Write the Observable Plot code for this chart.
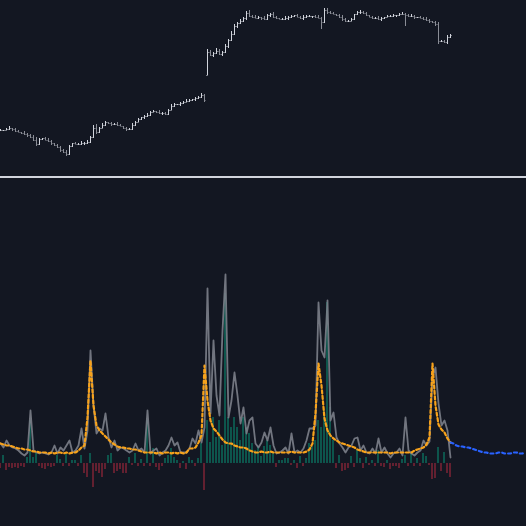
<!DOCTYPE html>
<html><head><meta charset="utf-8">
<script src="https://cdn.jsdelivr.net/npm/d3@7"></script>
<script src="https://cdn.jsdelivr.net/npm/@observablehq/plot@0.6"></script>
<style>
html,body{margin:0;padding:0;background:#131722;}
#chart{width:526px;height:526px;overflow:hidden;background:#131722;}
#sep{height:2px;background:#d1d4dc;}
svg{display:block}
</style></head><body><div id="chart"></div>
<script>
// ---- price panel (closing values) ----
const close = [
 46,46,47,48,47,45,44,43,42,41,
 39,36,32,37,38,36,35,33,31,29,
 26,24,22,30,33,32,32,33,33,34,
 39,48,44,48,51,54,53,52,52,51,
 50,48,47,47,51,54,57,59,60,61,
 64,65,64,63,63,62,66,70,72,72,
 73,74,75,76,77,78,79,81,76,124,
 121,123,125,122,124,130,136,142,150,153,
 155,158,163,160,159,158,159,158,157,161,
 162,159,158,157,157,158,159,160,161,159,
 158,159,160,160,160,159,158,154,166,164,
 163,162,161,159,157,155,155,157,162,164,
 164,163,161,159,158,158,157,158,159,160,
 160,161,161,162,162,161,160,160,159,159,
 158,157,156,155,154,152,135,135,134,139,
 141];
const gapOpen = {69: 101};
const wickUp = [
 1,0,1,2,0,1,1,0,2,1, 1,2,3,1,0,1,2,1,0,1, 1,1,2,1,0,1,1,2,1,2,
 1,3,4,1,2,1,0,1,1,2, 1,0,1,1,2,1,1,0,1,2, 1,1,0,2,1,1,1,2,1,0,
 1,1,2,1,0,1,1,2,1,3, 2,1,3,2,1,2,1,3,2,1, 2,1,2,3,1,2,1,0,2,1,
 1,2,1,0,1,2,1,1,0,1, 1,2,1,1,0,1,2,1,2,2, 1,1,0,1,2,1,1,1,0,1,
 2,1,1,0,1,1,2,1,0,1, 1,1,0,1,2,1,1,2,1,0, 1,1,2,1,0,1,2,1,1,2, 1];
const wickDn = [
 1,1,0,1,2,1,0,1,1,2, 1,1,2,1,1,0,1,2,1,1, 2,1,2,1,1,0,1,1,2,1,
 1,1,2,1,0,1,1,2,1,1, 0,1,2,1,1,1,0,1,2,1, 1,0,1,1,2,1,1,0,1,1,
 2,1,0,1,1,2,1,1,2,0, 1,2,1,1,2,1,2,1,1,2, 1,1,2,1,1,0,1,2,1,1,
 2,1,1,0,1,1,2,1,1,0, 1,2,1,1,2,1,0,7,1,2, 1,0,1,1,2,1,1,0,1,1,
 2,1,1,0,1,1,1,2,1,0, 1,1,2,1,0,11,1,1,2,1, 0,1,1,2,1,2,3,1,1,2, 1];

// ---- volatility panel ----
const realized = [
 20,16,23,18,16,15,13,10,8,11,
 53,13,11,10,11,10,9,11,18,10,
 16,13,18,23,11,13,18,35,15,33,
 113,58,30,35,33,50,26,16,23,13,
 16,15,13,11,13,20,13,15,11,53,
 10,13,15,8,11,13,18,26,18,21,
 11,11,11,15,25,20,33,21,36,175,
 50,123,68,48,133,189,46,63,91,68,
 40,56,30,43,46,20,16,21,31,23,
 36,18,10,11,13,16,10,30,11,13,
 11,15,23,35,35,38,161,113,106,163,
 43,51,26,20,16,11,16,18,25,26,
 13,18,11,10,15,10,25,11,16,10,
 6,10,11,15,8,46,13,10,8,11,
 13,23,18,22,86,96,60,38,43,33,
 6];
const garch = [
 20,19,18,18,17,16,15,15,14,14,
 13,12,12,11,11,11,10,11,10,11,
 11,10,11,10,11,11,13,16,18,46,
 103,58,38,33,30,27,24,21,19,17,
 16,16,15,15,14,14,13,12,11,11,
 11,11,10,11,10,11,11,10,11,10,
 11,10,11,15,15,16,21,28,98,63,
 43,35,32,28,24,21,20,20,18,17,
 16,16,15,13,12,11,11,12,11,11,
 12,11,11,11,11,11,11,12,11,11,
 11,11,12,14,20,50,100,78,45,33,
 28,25,23,21,20,19,18,17,16,14,
 13,12,11,11,11,11,11,11,11,11,
 10,11,11,11,11,11,11,11,13,14,
 15,16,19,26,100,58,39,34,31,25,
 21];
const returns = [
 -5,8,-7,-4,-5,-4,-5,-3,-4,6,
 43,6,10,-3,-5,-6,-3,-4,-3,8,
 4,-3,10,-3,3,3,-3,8,-10,-14,
 10,-24,-8,-10,-14,-6,8,10,-10,-8,
 -6,-10,-10,6,-2,10,-3,4,-3,43,
 -3,15,-4,-7,-3,5,8,15,6,3,
 -5,2,-6,6,3,-3,5,20,-27,43,
 21,46,26,43,18,170,46,36,46,36,
 23,46,36,30,20,13,17,7,17,23,
 18,10,-4,3,3,5,5,-2,3,-5,
 7,-3,5,20,17,23,43,36,53,161,
 56,23,-5,8,-8,-7,-5,7,-4,13,
 5,-5,6,-2,3,-3,13,-3,-4,3,
 -6,-3,-3,-5,4,8,-3,10,-3,5,
 -3,10,7,-2,-16,-15,16,-8,11,-10,
 -14];
const forecastStart = 150;
const forecast = [21,20,18,17,17,16,16,15,14,13,12,11,11,10,10,10,11,11,10,10,10,11,11,10,10,11];

const N = close.length;
const bars = d3.range(N).map(i => {
  const o = gapOpen[i] ?? (i ? close[i-1] : close[0]);
  const c = close[i];
  return {i, o, c, h: Math.max(o, c) + wickUp[i], l: Math.min(o, c) - wickDn[i], up: c >= o};
});
const volRows = d3.range(N).map(i => ({i, rv: realized[i], g: garch[i], r: returns[i]}));
const fcRows = forecast.map((v, k) => ({i: forecastStart + k, v}));

const xs = {domain: [0, 175], range: [0, 525], axis: null};
const upC = "#d1d4dc", dnC = "#8a8d96";

const pricePlot = Plot.plot({
  width: 526, height: 176, margin: 0,
  style: {background: "#131722"},
  x: xs,
  y: {domain: [0, 176], axis: null},
  marks: [
    Plot.ruleX(bars.filter(d => d.up), {x: "i", y1: "l", y2: "h", stroke: upC, strokeWidth: 1}),
    Plot.ruleX(bars.filter(d => !d.up), {x: "i", y1: "l", y2: "h", stroke: dnC, strokeWidth: 1}),
    Plot.link(bars.filter(d => d.up), {x1: d => d.i - 0.34, x2: "i", y1: "o", y2: "o", stroke: upC}),
    Plot.link(bars.filter(d => !d.up), {x1: d => d.i - 0.34, x2: "i", y1: "o", y2: "o", stroke: dnC}),
    Plot.link(bars.filter(d => d.up), {x1: "i", x2: d => d.i + 0.34, y1: "c", y2: "c", stroke: upC}),
    Plot.link(bars.filter(d => !d.up), {x1: "i", x2: d => d.i + 0.34, y1: "c", y2: "c", stroke: dnC})
  ]
});

const volPlot = Plot.plot({
  width: 526, height: 348, margin: 0,
  style: {background: "#131722"},
  x: xs,
  y: {domain: [-63, 285], axis: null},
  marks: [
    Plot.rect(volRows.filter(d => d.r >= 0), {x1: d => d.i - 0.25, x2: d => d.i + 0.25, y1: 0, y2: "r", fill: "#0c6b5b"}),
    Plot.rect(volRows.filter(d => d.r < 0), {x1: d => d.i - 0.25, x2: d => d.i + 0.25, y1: 0, y2: "r", fill: "#7f2536"}),
    Plot.line(volRows, {x: "i", y: "rv", stroke: "#7c7f89", strokeWidth: 1.8, strokeOpacity: 0.9}),
    Plot.line(volRows, {x: "i", y: "g", stroke: "#f7a21b", strokeWidth: 2.2, strokeDasharray: "3,2.5"}),
    Plot.line(fcRows, {x: "i", y: "v", stroke: "#2962ff", strokeWidth: 2.2, strokeDasharray: "3,3"})
  ]
});

const root = document.getElementById("chart");
root.append(pricePlot);
const sep = document.createElement("div"); sep.id = "sep"; root.append(sep);
root.append(volPlot);
</script>
</body></html>
